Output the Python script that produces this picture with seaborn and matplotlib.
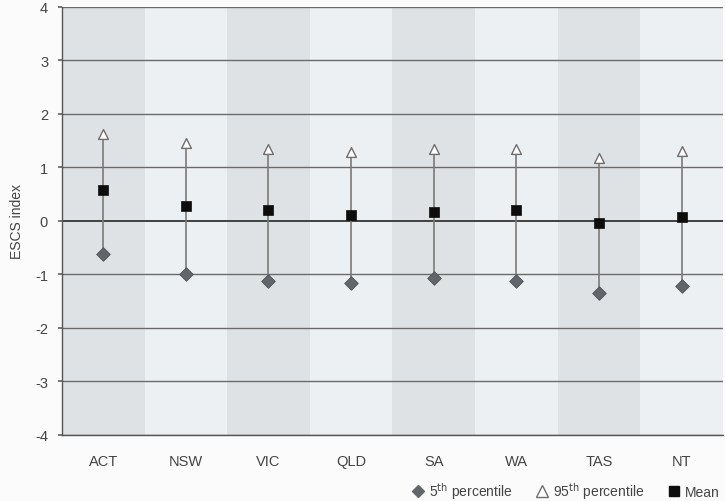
import matplotlib
matplotlib.use("Agg")
import matplotlib.pyplot as plt
from matplotlib.lines import Line2D
import seaborn as sns
import pandas as pd

states = ["ACT", "NSW", "VIC", "QLD", "SA", "WA", "TAS", "NT"]
p5 = [-0.63, -0.99, -1.13, -1.16, -1.06, -1.12, -1.35, -1.22]
p95 = [1.62, 1.45, 1.34, 1.29, 1.34, 1.34, 1.17, 1.30]
mean = [0.58, 0.27, 0.20, 0.10, 0.16, 0.20, -0.05, 0.07]
yticks = [-4, -3, -2, -1, 0, 1, 2, 3, 4]

sns.set_theme(style="white")
plt.rcParams["font.family"] = ["Liberation Sans", "DejaVu Sans"]

df = pd.DataFrame({"state": states, "p5": p5, "p95": p95, "mean": mean})

fig = plt.figure(figsize=(7.25, 5.02), dpi=100, facecolor="#fbfbfb")
ax = fig.add_axes([0.0855, 0.1315, 0.9115, 0.8535])
ax.set_facecolor("#eceff2")

# alternating column bands
for i in range(len(states)):
    ax.axvspan(i - 0.5, i + 0.5, color="#dfe2e5" if i % 2 == 0 else "#edf0f3",
               zorder=0, lw=0)

# horizontal grid
for v in yticks:
    ax.axhline(v, color="#333333" if v == 0 else "#6a6a6a",
               lw=1.3 if v == 0 else 1.0, zorder=1)

# range lines from 5th to 95th percentile
ax.vlines(range(len(states)), df["p5"], df["p95"], color="#7a7a7a", lw=1.2, zorder=2)

sns.scatterplot(data=df, x="state", y="p95", marker="^", s=50, color="white",
                edgecolor="#6e6e6e", linewidth=1.0, ax=ax, zorder=3)
sns.scatterplot(data=df, x="state", y="p5", marker="D", s=48, color="#62666b",
                edgecolor="#4e5257", linewidth=0.6, ax=ax, zorder=3)
sns.scatterplot(data=df, x="state", y="mean", marker="s", s=62, color="#0d0d0d",
                edgecolor="#0d0d0d", linewidth=0.5, ax=ax, zorder=4)

ax.set_xlim(-0.5, len(states) - 0.5)
ax.set_ylim(-4, 4)
ax.set_yticks(yticks)
ax.set_yticklabels([str(v) for v in yticks])
ax.set_xlabel("")
ax.set_ylabel("ESCS index", fontsize=10, color="#444444")
ax.yaxis.set_label_coords(-0.058, 0.5)
ax.tick_params(axis="y", left=True, length=3, color="#666666", labelsize=10.5,
               labelcolor="#444444", pad=7)
ax.tick_params(axis="x", bottom=False, labelsize=10.5, labelcolor="#444444", pad=8)

for side in ["top", "right"]:
    ax.spines[side].set_visible(False)
for side in ["left", "bottom"]:
    ax.spines[side].set_color("#555555")
    ax.spines[side].set_linewidth(1.0)

handles = [
    Line2D([], [], marker="D", ls="", color="#62666b", markersize=6),
    Line2D([], [], marker="^", ls="", markerfacecolor="white",
           markeredgecolor="#6e6e6e", markersize=8),
    Line2D([], [], marker="s", ls="", color="#0d0d0d", markersize=6.5),
]
labels = [r"5$^{\mathrm{th}}$ percentile", r"95$^{\mathrm{th}}$ percentile", "Mean"]
leg = fig.legend(handles, labels, loc="lower right", bbox_to_anchor=(1.0, -0.012),
                 borderaxespad=0.0, ncol=3, frameon=False, fontsize=10,
                 handletextpad=0.3, columnspacing=1.6, handlelength=1.0)
for t in leg.get_texts():
    t.set_color("#444444")

fig.savefig("out.png", dpi=100, facecolor=fig.get_facecolor())
